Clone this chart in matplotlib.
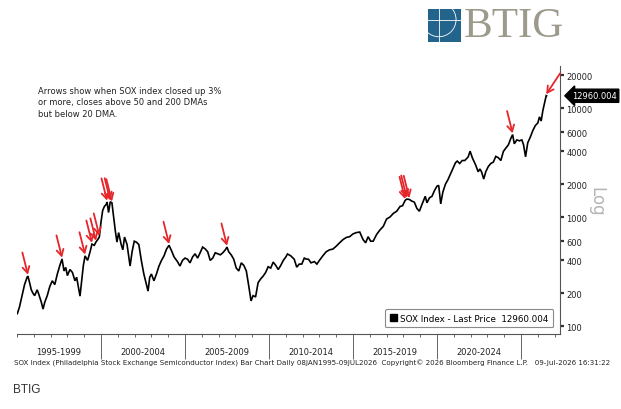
import matplotlib
matplotlib.use("Agg")
import matplotlib.pyplot as plt
import matplotlib.transforms as mtransforms
from matplotlib.patches import Patch, Rectangle, Circle

# SOX index (decimal year, price)
years = [
    1995.02, 1995.15, 1995.30, 1995.45, 1995.60, 1995.65, 1995.75, 1995.85, 1995.95,
    1996.05, 1996.20, 1996.30, 1996.45, 1996.55, 1996.65, 1996.80, 1996.95,
    1997.10, 1997.25, 1997.40, 1997.55, 1997.68, 1997.80, 1997.90,
    1998.00, 1998.15, 1998.30, 1998.45, 1998.55, 1998.65, 1998.75, 1998.85, 1998.95,
    1999.05, 1999.20, 1999.35, 1999.46, 1999.60, 1999.70, 1999.80, 1999.90,
    2000.00, 2000.10, 2000.20, 2000.30, 2000.36, 2000.45, 2000.55, 2000.65, 2000.75, 2000.85, 2000.95,
    2001.05, 2001.20, 2001.30, 2001.40, 2001.55, 2001.73, 2001.85, 2001.98,
    2002.10, 2002.25, 2002.40, 2002.55, 2002.65, 2002.80, 2002.90,
    2003.00, 2003.15, 2003.30, 2003.45, 2003.60, 2003.75, 2003.90,
    2004.05, 2004.20, 2004.35, 2004.55, 2004.70, 2004.85,
    2005.00, 2005.15, 2005.30, 2005.45, 2005.60, 2005.75, 2005.90,
    2006.05, 2006.20, 2006.35, 2006.50, 2006.65, 2006.80, 2006.95,
    2007.10, 2007.25, 2007.40, 2007.50, 2007.60, 2007.75, 2007.90,
    2008.05, 2008.20, 2008.35, 2008.50, 2008.65, 2008.80, 2008.93,
    2009.05, 2009.20, 2009.35, 2009.50, 2009.65, 2009.80, 2009.95,
    2010.10, 2010.25, 2010.40, 2010.55, 2010.70, 2010.85,
    2011.00, 2011.10, 2011.30, 2011.50, 2011.65, 2011.80, 2011.95,
    2012.10, 2012.20, 2012.35, 2012.50, 2012.70, 2012.85,
    2013.00, 2013.20, 2013.40, 2013.60, 2013.80,
    2014.00, 2014.20, 2014.40, 2014.60, 2014.80,
    2015.00, 2015.20, 2015.40, 2015.60, 2015.75, 2015.90,
    2016.05, 2016.20, 2016.40, 2016.60, 2016.80,
    2017.00, 2017.20, 2017.40, 2017.60, 2017.80, 2017.95,
    2018.10, 2018.20, 2018.35, 2018.50, 2018.65, 2018.80, 2018.95,
    2019.10, 2019.30, 2019.40, 2019.55, 2019.70, 2019.85,
    2020.00, 2020.10, 2020.22, 2020.35, 2020.50, 2020.65, 2020.80, 2020.95,
    2021.10, 2021.20, 2021.35, 2021.50, 2021.65, 2021.85, 2021.97,
    2022.10, 2022.30, 2022.45, 2022.55, 2022.65, 2022.78, 2022.90,
    2023.05, 2023.20, 2023.35, 2023.50, 2023.65, 2023.80, 2023.95,
    2024.10, 2024.25, 2024.40, 2024.50, 2024.60, 2024.75, 2024.90,
    2025.05, 2025.15, 2025.27, 2025.40, 2025.55, 2025.70, 2025.85,
    2026.00, 2026.10, 2026.20, 2026.30, 2026.42, 2026.50, 2026.52,
]
prices = [
    130, 150, 190, 240, 280, 287, 250, 215, 200,
    190, 215, 195, 165, 143, 165, 190, 230,
    260, 240, 300, 360, 412, 320, 345,
    290, 330, 310, 260, 280, 230, 188, 260, 360,
    440, 400, 480, 564, 550, 590, 620, 655,
    900, 1150, 1250, 1300, 1374, 1100, 1380, 1350, 1000, 750, 589,
    720, 560, 500, 655, 560, 355, 480, 600,
    589, 560, 400, 300, 260, 209, 280,
    300, 260, 300, 355, 400, 440, 508,
    550, 490, 430, 390, 355, 400,
    420, 410, 380, 430, 460, 420, 470,
    530, 510, 480, 400, 420, 470, 460,
    450, 470, 500, 530, 480, 450, 410,
    340, 320, 380, 360, 320, 230, 170,
    190, 185, 250, 270, 287, 310, 350,
    340, 386, 360, 330, 360, 400,
    430, 458, 440, 410, 347, 370, 370,
    420, 412, 410, 380, 390, 370,
    400, 440, 480, 500, 508,
    540, 580, 620, 650, 660,
    700, 720, 728, 620, 580, 660,
    600, 600, 690, 760, 820,
    960, 1000, 1080, 1130, 1250, 1270,
    1420, 1460, 1450, 1400, 1370, 1200, 1130,
    1300, 1550, 1350, 1500, 1550, 1750,
    1920, 1950, 1320, 1700, 2000, 2200, 2480, 2800,
    3150, 3260, 3100, 3300, 3300, 3550, 4020,
    3500, 3000, 2600, 2760, 2600, 2230, 2600,
    2900, 3100, 3190, 3600, 3500, 3300, 4000,
    4300, 4600, 5300, 5700, 4700, 5100, 5000,
    5100, 4600, 3570, 4800, 5400, 6200, 6900,
    7300, 8300, 7600, 9500, 11500, 13000, 12960,
]

# arrow signals (tip year, tip price)
arrow_years = [1995.65, 1997.68, 1999.05, 1999.46, 1999.70, 1999.90, 2000.36, 2000.55,
               2000.65, 2004.05, 2007.50, 2018.10, 2018.20, 2018.35, 2024.50, 2026.50]
arrow_prices = [287, 412, 440, 564, 590, 655, 1374, 1380,
                1350, 550, 530, 1420, 1460, 1450, 5700, 13000]

yticks = [100, 200, 400, 600, 1000, 2000, 4000, 6000, 10000, 20000]
period_labels = ["1995-1999", "2000-2004", "2005-2009", "2010-2014", "2015-2019", "2020-2024"]
period_centers = [1997.5, 2002.5, 2007.5, 2012.5, 2017.5, 2022.5]
separators = [2000, 2005, 2010, 2015, 2020, 2025]
last_price = "12960.004"

fig = plt.figure(figsize=(6.21, 4.10), dpi=100)
fig.patch.set_facecolor("white")

ax = fig.add_axes([17 / 621, 1 - 335 / 410, (560 - 17) / 621, (335 - 67) / 410])
ax.set_yscale("log")
ax.set_xlim(1995.0, 2027.32)
ax.set_ylim(84.5, 24300)

ax.plot(years, prices, color="black", lw=1.2, solid_joinstyle="miter")

for i in range(len(arrow_years)):
    off = (10, 15) if i == len(arrow_years) - 1 else (-4, 16)
    ax.annotate("", xy=(arrow_years[i], arrow_prices[i] * 1.03), xytext=off,
                textcoords="offset points",
                arrowprops=dict(arrowstyle="->,head_length=0.45,head_width=0.25",
                                color="#e5262a", lw=1.3, shrinkA=0, shrinkB=0))

for s in ["left", "top"]:
    ax.spines[s].set_visible(False)
for s in ["right", "bottom"]:
    ax.spines[s].set_color("#555555")
    ax.spines[s].set_linewidth(0.8)

ax.yaxis.tick_right()
ax.set_yticks(yticks)
ax.set_yticklabels([str(t) for t in yticks])
ax.yaxis.set_minor_locator(matplotlib.ticker.NullLocator())
ax.tick_params(axis="y", which="major", direction="out", length=3, width=1.6,
               color="#333333", labelsize=6, pad=1.5, labelcolor="#222222")

ax.set_xticks(separators)
ax.set_xticklabels([])
ax.set_xticks(list(range(1995, 2028)), minor=True)
ax.tick_params(axis="x", which="major", direction="out", length=18, width=0.7, color="#666666")
ax.tick_params(axis="x", which="minor", direction="out", length=2.5, width=0.7, color="#666666")

trans = mtransforms.blended_transform_factory(ax.transData, ax.transAxes)
for c, lab in zip(period_centers, period_labels):
    ax.text(c, -0.065, lab, transform=trans, ha="center", va="center",
            fontsize=6, color="#222222")

# last price tag on the axis
trans_y = mtransforms.blended_transform_factory(ax.transAxes, ax.transData)
ax.text(1.022, 12960, last_price, transform=trans_y, ha="left", va="center",
        fontsize=6, color="white",
        bbox=dict(boxstyle="larrow,pad=0.25", fc="black", ec="black"))

leg = ax.legend(handles=[Patch(facecolor="black", edgecolor="black")],
                labels=["SOX Index - Last Price  " + last_price],
                loc="lower right", bbox_to_anchor=(0.996, 0.008), fontsize=6.3,
                fancybox=True, framealpha=1, edgecolor="#8a8a8a",
                handlelength=0.8, handleheight=0.8, handletextpad=0.4,
                borderpad=0.55)
leg.get_frame().set_linewidth(0.8)

fig.text(38 / 621, 1 - 87 / 410,
         "Arrows show when SOX index closed up 3%\nor more, closes above 50 and 200 DMAs\nbut below 20 DMA.",
         ha="left", va="top", fontsize=6, linespacing=1.35, color="#222222")

fig.text(596 / 621, 1 - 202 / 410, "Log", rotation=270, fontsize=12,
         color="#b5b5b5", ha="center", va="center")

fig.text(312 / 621, 1 - 363 / 410,
         "SOX Index (Philadelphia Stock Exchange Semiconductor Index) Bar Chart Daily "
         "08JAN1995-09JUL2026  Copyright\u00a9 2026 Bloomberg Finance L.P.   09-Jul-2026 16:31:22",
         ha="center", va="center", fontsize=5.1, color="#222222")

fig.text(13 / 621, 1 - 390 / 410, "BTIG", ha="left", va="center", fontsize=8.5,
         color="#333333", family="Liberation Sans")

# BTIG logo, top right
lax = fig.add_axes([428 / 621, 1 - 43 / 410, 33 / 621, 33 / 410])
lax.set_xlim(0, 1)
lax.set_ylim(0, 1)
lax.axis("off")
lax.add_patch(Rectangle((0, 0), 1, 1, facecolor="#22648c", edgecolor="none"))
lax.plot([0.33, 0.33], [0, 1], color="white", lw=0.6)
lax.plot([0, 1], [0.68, 0.68], color="white", lw=0.6)
lax.add_patch(Circle((0.33, 0.68), 0.52, facecolor="none", edgecolor="white", lw=0.6, clip_on=True))
fig.text(464 / 621, 1 - 27 / 410, "BTIG", ha="left", va="center", fontsize=31,
         color="#9c9a8b", family="Liberation Serif")

fig.savefig("out.png", dpi=100)
